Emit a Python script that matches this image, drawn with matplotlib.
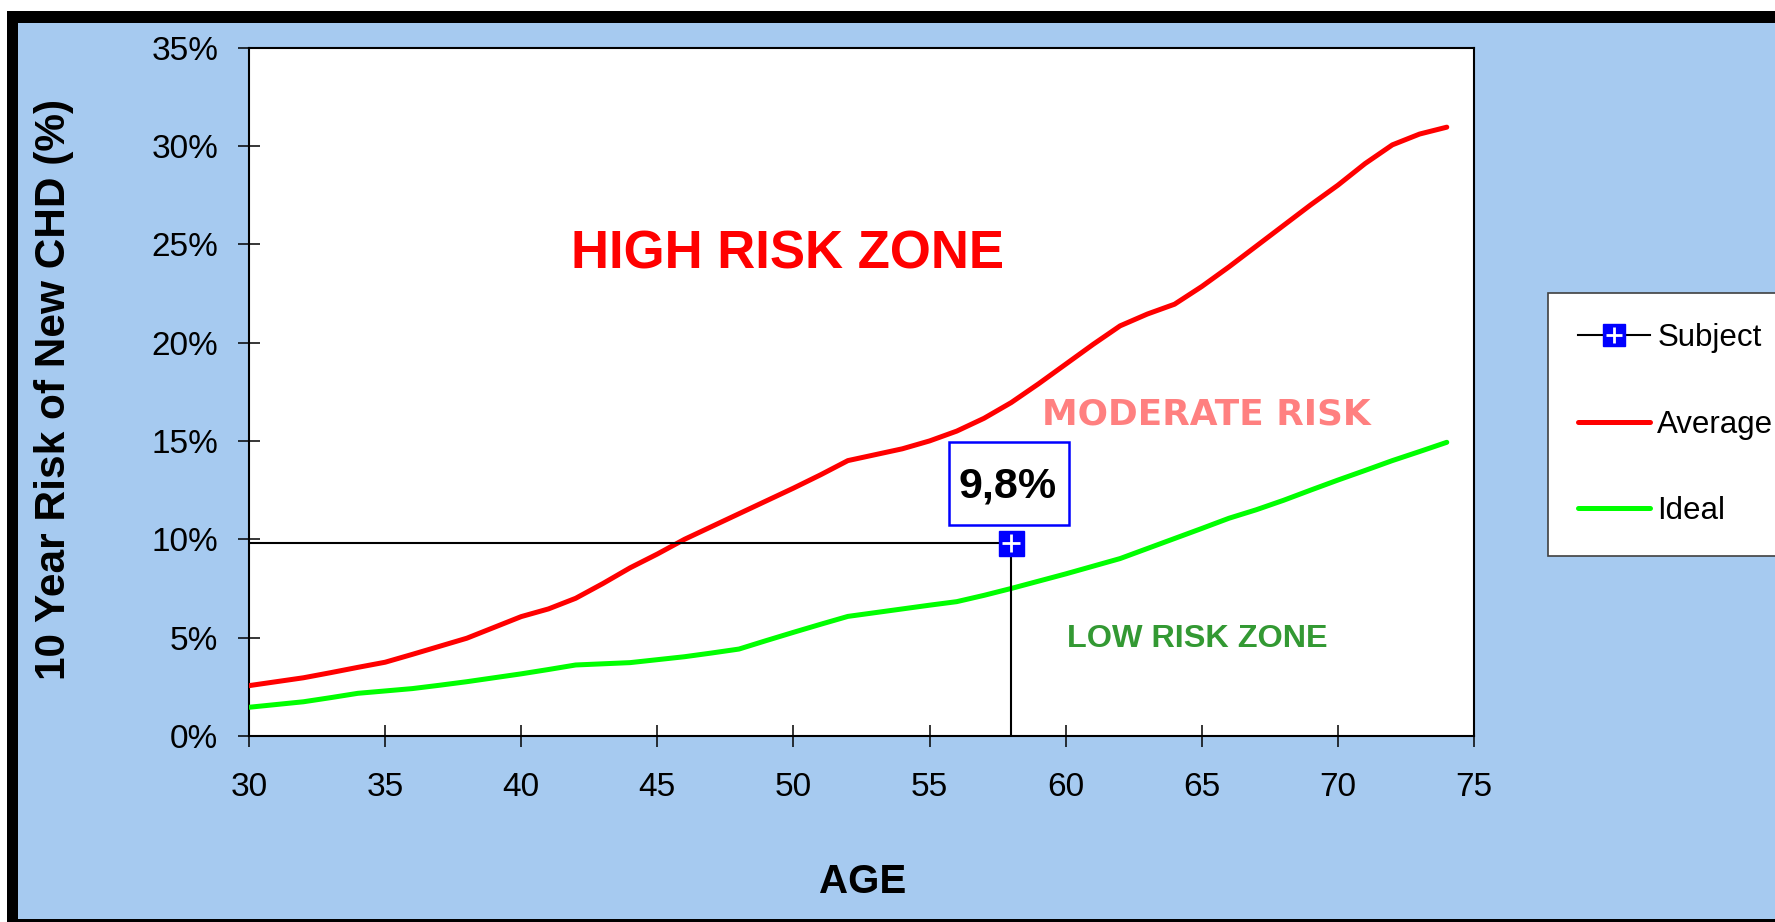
import matplotlib
matplotlib.use("Agg")
import matplotlib.pyplot as plt
from matplotlib.patches import Rectangle
from matplotlib.lines import Line2D
from matplotlib.legend_handler import HandlerTuple

plt.rcParams['font.family'] = ['Liberation Sans', 'DejaVu Sans']

# data
ages = list(range(30, 75))
average_risk = [2.56, 2.76, 2.96, 3.22, 3.49, 3.75, 4.15, 4.56, 4.97, 5.52,
                6.07, 6.46, 7.0, 7.75, 8.55, 9.25, 10.0, 10.65, 11.3, 11.95,
                12.6, 13.28, 14.0, 14.3, 14.6, 15.0, 15.5, 16.15, 16.95, 17.9,
                18.9, 19.9, 20.85, 21.45, 21.95, 22.85, 23.85, 24.9, 25.95, 27.0,
                28.0, 29.1, 30.05, 30.6, 30.95]
ideal_risk = [1.46, 1.6, 1.74, 1.95, 2.17, 2.29, 2.41, 2.58, 2.76, 2.96,
              3.16, 3.38, 3.61, 3.67, 3.73, 3.88, 4.03, 4.22, 4.42, 4.85,
              5.27, 5.68, 6.08, 6.27, 6.46, 6.65, 6.83, 7.15, 7.5, 7.87,
              8.24, 8.63, 9.02, 9.53, 10.04, 10.55, 11.07, 11.5, 11.98, 12.5,
              13.01, 13.5, 14.0, 14.46, 14.93]
subject_age = 58
subject_risk = 9.8
subject_label = "9,8%"

x_ticks = [30, 35, 40, 45, 50, 55, 60, 65, 70, 75]
y_ticks = [0, 5, 10, 15, 20, 25, 30, 35]

W, H = 1775, 922
fig = plt.figure(figsize=(W / 100, H / 100), dpi=100)
fig.patch.set_facecolor('white')

# black frame and light blue background
fig.add_artist(Rectangle((6.7 / W, 0), 1, 1 - 11 / H, transform=fig.transFigure,
                         facecolor='black', edgecolor='none', zorder=-10))
fig.add_artist(Rectangle((18.3 / W, 3 / H), 1, 1 - 26 / H, transform=fig.transFigure,
                         facecolor='#A6CAF0', edgecolor='none', zorder=-9))

ax = fig.add_axes([249 / W, 1 - 736 / H, (1474 - 249) / W, (736 - 47.5) / H])
ax.set_facecolor('white')

avg_line, = ax.plot(ages, average_risk, color='#FF0000', lw=3.6,
                    solid_capstyle='round', solid_joinstyle='round', zorder=3)
ideal_line, = ax.plot(ages, ideal_risk, color='#00FF00', lw=3.6,
                      solid_capstyle='round', solid_joinstyle='round', zorder=3)

# subject guide lines and marker
ax.plot([x_ticks[0], subject_age, subject_age], [subject_risk, subject_risk, 0],
        color='black', lw=1.5, zorder=4)
ax.plot([subject_age], [subject_risk], marker='s', ms=18, mfc='#0000FF',
        mec='#0000FF', ls='none', zorder=5)
ax.plot([subject_age], [subject_risk], marker='+', ms=13, mew=2, color='white',
        ls='none', zorder=6)

# value box above the subject
ax.add_patch(Rectangle((subject_age - 2.28, subject_risk + 0.93), 4.4, 4.22,
                       facecolor='white', edgecolor='#0000FF', lw=1.8, zorder=4))
ax.text(subject_age - 0.15, subject_risk + 2.3, subject_label, fontsize=31,
        fontweight='bold', ha='center', va='baseline', zorder=5)

# zone labels
ax.text(49.77, 23.78, "HIGH RISK ZONE", color='#FF0000', fontsize=38,
        fontweight='bold', ha='center', va='baseline')
ax.text(65.16, 15.86, "MODERATE RISK", color='#FF8080', fontsize=25.8,
        fontweight='bold', ha='center', va='baseline', family='DejaVu Sans')
ax.text(64.83, 4.54, "LOW RISK ZONE", color='#339933', fontsize=23.3,
        fontweight='bold', ha='center', va='baseline')

ax.set_xlim(30, 75)
ax.set_ylim(0, 35)
ax.set_xticks(x_ticks)
ax.set_yticks(y_ticks)
ax.set_yticklabels([f"{v}%" for v in y_ticks])
ax.tick_params(axis='both', direction='inout', length=16, width=1.1,
               labelsize=24, colors='black')
ax.tick_params(axis='y', pad=14)
ax.tick_params(axis='x', pad=18)
for sp in ax.spines.values():
    sp.set_linewidth(1.5)
    sp.set_color('black')

fig.text(863 / W, 1 - 882 / H, "AGE", fontsize=29, fontweight='bold',
         ha='center', va='center')
fig.text(54 / W, 1 - 389 / H, "10 Year Risk of New CHD (%)", fontsize=30.5,
         fontweight='bold', rotation=90, ha='center', va='center')

# legend
subj_line = Line2D([], [], color='black', lw=1.5, marker='s', ms=16,
                   mfc='#0000FF', mec='#0000FF')
subj_plus = Line2D([], [], color='white', ls='none', marker='+', ms=12, mew=2)
leg = fig.legend([(subj_line, subj_plus), avg_line, ideal_line],
                 ["Subject", "Average", "Ideal"],
                 handler_map={tuple: HandlerTuple(ndivide=1, pad=0)},
                 loc='upper left', bbox_to_anchor=(1548 / W, 1 - 293 / H),
                 borderaxespad=0, fontsize=22.5, frameon=True, fancybox=False,
                 edgecolor='#404040', framealpha=1, borderpad=0.95,
                 labelspacing=1.82, handlelength=2.3, handletextpad=0.25)
leg.get_frame().set_linewidth(1.2)

fig.savefig("out.png", dpi=100)
